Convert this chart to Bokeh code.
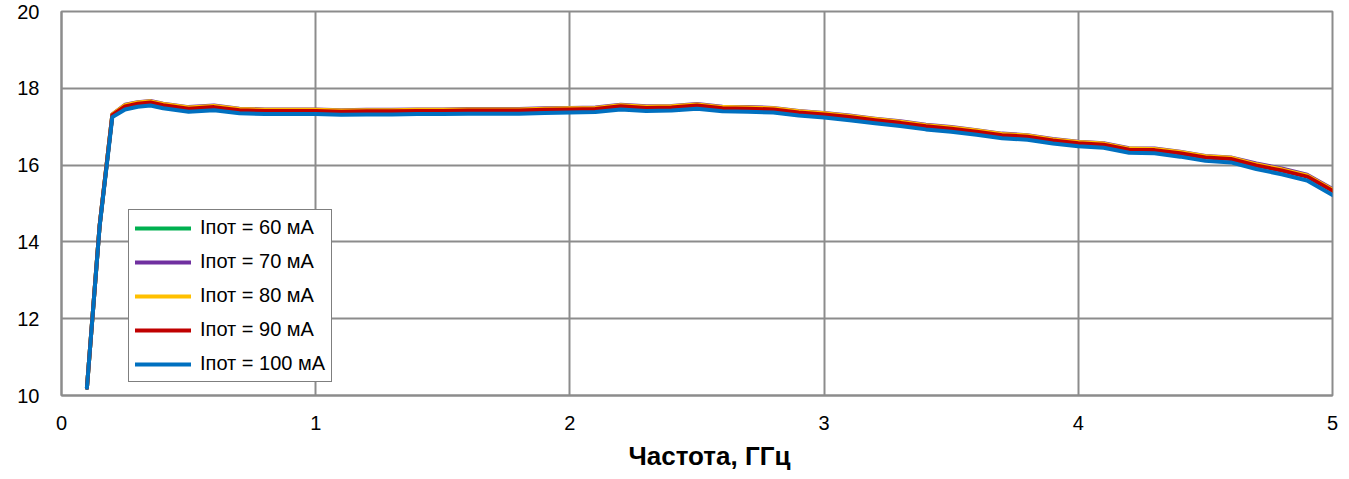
from bokeh.plotting import figure
from bokeh.models import Legend, LegendItem, Range1d, Title
from bokeh.embed import file_html
from bokeh.resources import INLINE

# Frequency points, GHz
freq = [0.10, 0.15, 0.20, 0.25, 0.30, 0.35, 0.40, 0.50, 0.60, 0.70, 0.80, 0.90,
        1.00, 1.10, 1.20, 1.30, 1.40, 1.50, 1.60, 1.70, 1.80, 1.90, 2.00, 2.10,
        2.20, 2.30, 2.40, 2.50, 2.60, 2.70, 2.80, 2.90, 3.00, 3.10, 3.20, 3.30,
        3.40, 3.50, 3.60, 3.70, 3.80, 3.90, 4.00, 4.10, 4.20, 4.30, 4.40, 4.50,
        4.60, 4.70, 4.80, 4.90, 5.00]

# Gain, dB, for each supply current
gain_60 = [10.20, 14.42, 17.31, 17.55, 17.62, 17.65, 17.58, 17.49, 17.53, 17.45, 17.43, 17.43,
           17.43, 17.41, 17.42, 17.42, 17.43, 17.43, 17.44, 17.44, 17.44, 17.46, 17.47, 17.48,
           17.55, 17.51, 17.52, 17.57, 17.50, 17.49, 17.47, 17.39, 17.34, 17.27, 17.19, 17.12,
           17.03, 16.97, 16.89, 16.80, 16.76, 16.66, 16.59, 16.55, 16.42, 16.41, 16.33, 16.22,
           16.18, 16.01, 15.88, 15.72, 15.35]
gain_70 = [10.20, 14.43, 17.32, 17.57, 17.64, 17.67, 17.60, 17.51, 17.55, 17.47, 17.45, 17.45,
           17.45, 17.43, 17.44, 17.44, 17.45, 17.45, 17.46, 17.46, 17.46, 17.48, 17.49, 17.50,
           17.57, 17.53, 17.54, 17.59, 17.52, 17.51, 17.49, 17.41, 17.36, 17.29, 17.21, 17.14,
           17.05, 16.99, 16.91, 16.82, 16.78, 16.68, 16.61, 16.57, 16.44, 16.43, 16.35, 16.24,
           16.20, 16.04, 15.91, 15.75, 15.38]
gain_80 = [10.20, 14.43, 17.32, 17.56, 17.63, 17.66, 17.59, 17.50, 17.54, 17.46, 17.44, 17.44,
           17.44, 17.42, 17.43, 17.43, 17.44, 17.44, 17.45, 17.45, 17.45, 17.47, 17.48, 17.49,
           17.56, 17.52, 17.53, 17.58, 17.51, 17.50, 17.48, 17.40, 17.35, 17.28, 17.20, 17.13,
           17.04, 16.98, 16.90, 16.81, 16.77, 16.67, 16.60, 16.56, 16.43, 16.42, 16.34, 16.23,
           16.19, 16.02, 15.89, 15.73, 15.36]
gain_90 = [10.20, 14.42, 17.30, 17.53, 17.60, 17.63, 17.56, 17.47, 17.51, 17.43, 17.41, 17.41,
           17.41, 17.39, 17.40, 17.40, 17.41, 17.41, 17.42, 17.42, 17.42, 17.44, 17.45, 17.46,
           17.53, 17.49, 17.50, 17.55, 17.48, 17.47, 17.45, 17.37, 17.32, 17.25, 17.17, 17.10,
           17.01, 16.95, 16.87, 16.78, 16.74, 16.64, 16.57, 16.53, 16.40, 16.39, 16.31, 16.20,
           16.16, 15.99, 15.86, 15.70, 15.33]
gain_100 = [10.20, 14.40, 17.25, 17.45, 17.52, 17.55, 17.48, 17.39, 17.43, 17.35, 17.33, 17.33,
            17.33, 17.31, 17.32, 17.32, 17.33, 17.33, 17.34, 17.34, 17.34, 17.36, 17.37, 17.38,
            17.45, 17.41, 17.42, 17.47, 17.40, 17.39, 17.37, 17.29, 17.24, 17.17, 17.09, 17.02,
            16.93, 16.87, 16.79, 16.70, 16.66, 16.56, 16.49, 16.45, 16.32, 16.31, 16.22, 16.11,
            16.07, 15.90, 15.76, 15.60, 15.22]

series_labels = ["Iпот = 60 мА", "Iпот = 70 мА", "Iпот = 80 мА", "Iпот = 90 мА", "Iпот = 100 мА"]
series_colors = ["#00B050", "#7030A0", "#FFC000", "#C00000", "#0070C0"]
series_values = [gain_60, gain_70, gain_80, gain_90, gain_100]

x_ticks = [0, 1, 2, 3, 4, 5]
y_ticks = [10, 12, 14, 16, 18, 20]
x_title = "Частота, ГГц"

FONT = "Liberation Sans"
GRID = "#8C8C8C"

p = figure(width=1349, height=479, output_backend="svg", toolbar_location=None,
           x_range=Range1d(0, 5), y_range=Range1d(10, 20),
           min_border_left=61, min_border_right=17, min_border_top=11, min_border_bottom=84)
p.background_fill_color = "white"
p.border_fill_color = "white"
p.outline_line_color = GRID
p.outline_line_width = 2

for ax, ticks in ((p.xaxis, x_ticks), (p.yaxis, y_ticks)):
    ax.ticker = ticks
    ax.axis_line_color = GRID
    ax.axis_line_width = 2
    ax.major_tick_line_color = None
    ax.minor_tick_line_color = None
    ax.major_tick_out = 0
    ax.major_tick_in = 0
    ax.major_label_text_font = FONT
    ax.major_label_text_font_size = "20px"
    ax.major_label_text_color = "black"

p.xaxis.major_label_standoff = 20
p.yaxis.major_label_standoff = 22

p.xgrid.grid_line_color = GRID
p.ygrid.grid_line_color = GRID
p.xgrid.grid_line_width = 2
p.ygrid.grid_line_width = 2

# x-axis title as a bottom title panel, placed from the left edge of the frame
p.add_layout(Title(text=x_title, align="left", offset=567, standoff=12,
                   text_font=FONT, text_font_size="26px", text_font_style="bold",
                   text_color="black"), "below")

items = []
for label, color, vals in zip(series_labels, series_colors, series_values):
    r = p.line(freq, vals, line_color=color, line_width=4, line_join="round", line_cap="round")
    items.append(LegendItem(label=label, renderers=[r]))

legend = Legend(items=items, location=(67, 13), margin=0, padding=6, spacing=11,
                label_height=22, glyph_height=22, glyph_width=56, label_standoff=9,
                label_text_font=FONT, label_text_font_size="20px", label_text_color="black",
                border_line_color="black", border_line_width=1.5,
                background_fill_color="white", background_fill_alpha=1)
p.add_layout(legend)

open("out.html", "w").write(file_html(p, INLINE))
